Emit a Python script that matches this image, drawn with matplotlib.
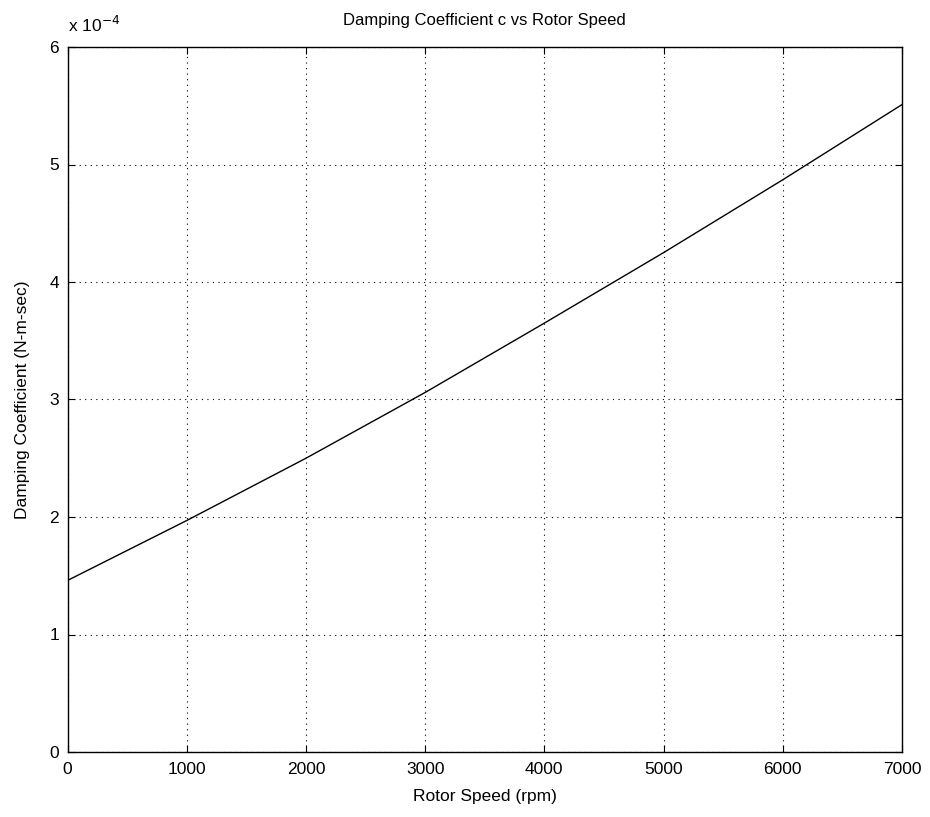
import matplotlib
matplotlib.use("Agg")
import matplotlib.pyplot as plt
import numpy as np

plt.rcParams['font.family'] = ['Liberation Sans', 'DejaVu Sans']

rotor_speed_rpm = [0, 1000, 2000, 3000, 4000, 5000, 6000, 7000]
damping_e4 = [1.46, 1.97, 2.50, 3.06, 3.65, 4.25, 4.87, 5.51]
damping = [v * 1e-4 for v in damping_e4]

x_ticks = [0, 1000, 2000, 3000, 4000, 5000, 6000, 7000]
y_ticks_e4 = [0, 1, 2, 3, 4, 5, 6]

fig = plt.figure(figsize=(9.3, 8.17), dpi=100)
ax = fig.add_axes([67.5/930, 65/817, (902-67.5)/930, (752-47)/817])
ax.plot(rotor_speed_rpm, damping, color='black', lw=1.0)

ax.set_xlim(0, 7000)
ax.set_ylim(0, 6e-4)
ax.set_xticks(x_ticks)
ax.set_xticklabels([str(t) for t in x_ticks])
ax.set_yticks([t * 1e-4 for t in y_ticks_e4])
ax.set_yticklabels([str(t) for t in y_ticks_e4])
ax.tick_params(direction='in', top=True, right=True, length=5, width=0.8,
               labelsize=12.5, colors='black')
ax.tick_params(axis='x', pad=7)
ax.tick_params(axis='y', pad=6)
ax.grid(True, color='black', linestyle=(0, (1, 4)), linewidth=0.8)
for s in ax.spines.values():
    s.set_linewidth(1.0)
    s.set_color('black')

ax.set_title('Damping Coefficient c vs Rotor Speed', fontsize=12, pad=16)
ax.set_xlabel('Rotor Speed (rpm)', fontsize=12.5, labelpad=9)
ax.set_ylabel('Damping Coefficient (N-m-sec)', fontsize=12.5, labelpad=14)
fig.text(68/930, 1 - 35/817, r'x 10$^{-4}$', fontsize=12.5, ha='left', va='bottom')

fig.savefig('out.png', dpi=100, facecolor='white')
